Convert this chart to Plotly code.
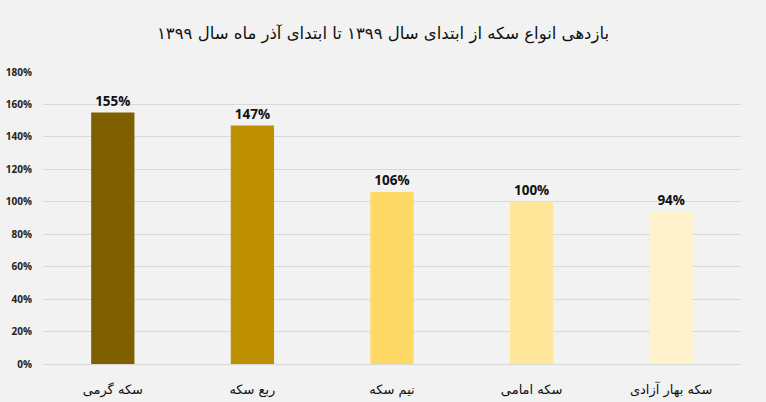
import plotly.graph_objects as go

# coin types and their return since start of 1399
coins = ["سکه گرمی", "ربع سکه", "نیم سکه", "سکه امامی", "سکه بهار آزادی"]
returns = [155, 147, 106, 100, 94]
bar_colors = ["#7f6000", "#bf9000", "#ffd966", "#ffe699", "#fff2cc"]
y_ticks = [0, 20, 40, 60, 80, 100, 120, 140, 160, 180]

title = "بازدهی انواع سکه از ابتدای سال ۱۳۹۹ تا ابتدای آذر ماه سال ۱۳۹۹"

fig = go.Figure(
    go.Bar(
        x=coins,
        y=returns,
        marker=dict(color=bar_colors, line=dict(width=0)),
        width=0.31,
        text=[f"{v}%" for v in returns],
        textposition="outside",
        textfont=dict(family="Open Sans", size=13.5, color="#111111", weight="bold"),
        cliponaxis=False,
    )
)

fig.update_layout(
    width=766,
    height=402,
    margin=dict(l=43, r=25, t=72, b=38),
    paper_bgcolor="#f2f2f2",
    plot_bgcolor="#f2f2f2",
    showlegend=False,
    title=dict(
        text=title,
        x=0.5,
        xanchor="center",
        y=0.918,
        yanchor="middle",
        font=dict(family="DejaVu Sans", size=16.5, color="#111111"),
    ),
    xaxis=dict(
        automargin=False,
        showgrid=False,
        showline=False,
        ticks="",
        ticklabelstandoff=16,
        tickfont=dict(family="DejaVu Sans", size=13, color="#111111"),
    ),
    yaxis=dict(
        automargin=False,
        range=[0, 180],
        tickvals=y_ticks,
        ticktext=[f"{v}%" for v in y_ticks],
        showgrid=True,
        gridcolor="#d9d9d9",
        gridwidth=1,
        zeroline=True,
        zerolinecolor="#d9d9d9",
        zerolinewidth=1,
        ticks="",
        ticklabelstandoff=10,
        tickfont=dict(family="Open Sans", size=10, color="#222222", weight="bold"),
    ),
)

# page body has a default margin; drop it so the figure sits at the corner
fig.write_html(
    "out.html",
    config={"displayModeBar": False},
    post_script="document.body.style.margin='0';",
)
